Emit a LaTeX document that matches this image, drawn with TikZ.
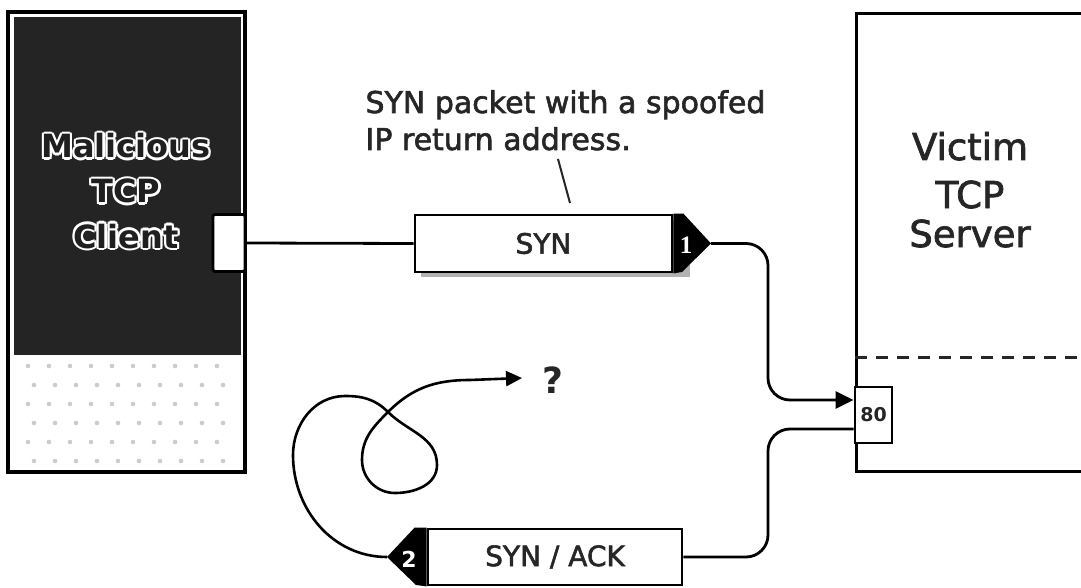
\documentclass[tikz,border=0pt]{standalone}
\usepackage{fontspec}
\setmainfont{DejaVu Sans}
\newfontfamily\heavy[FakeBold=2]{DejaVu Sans}
\newfontfamily\numfont{Liberation Serif}
\usetikzlibrary{arrows.meta,calc}
\begin{document}
\begin{tikzpicture}[x=1pt,y=-1pt,
  boxline/.style={draw=black,line width=2.8pt},
  packet/.style={boxline,fill=white,inner sep=0pt,minimum height=57pt},
  conn/.style={draw=black,line width=2.8pt,rounded corners=22pt},
  bigtip/.style={-{Triangle[length=18pt,width=17pt]}},
  pkttext/.style={font=\heavy\fontsize{28}{32}\selectfont,text=black!85},
  srvtext/.style={font=\heavy\fontsize{37}{40}\selectfont,text=black!85,anchor=base},
  clitext/.style={font=\fontsize{32}{36}\selectfont\bfseries,anchor=base},
  notetext/.style={font=\heavy\fontsize{30}{36}\selectfont,text=black!85,anchor=base west},
]
\clip (0,0) rectangle (1081,588);
\fill[white] (0,0) rectangle (1081,588);

% ---------- client ----------
\fill[black!86] (14,17) rectangle (241,355);
\foreach \r in {0,...,5}{
  \foreach \c in {0,...,9}{
    \fill[gray!40] ({28+\c*21+mod(\r,2)*6},{366+\r*19}) circle (2.3pt);
  }
}
\node[boxline,line width=3.2pt,minimum width=237pt,minimum height=460pt,inner sep=0pt] (client) at (126.5,242) {};
\foreach \a in {0,30,...,330}{
  \node[clitext,white] at ($(126,158)+(\a:2.2)$) {Malicious};
  \node[clitext,white] at ($(126,203)+(\a:2.2)$) {TCP};
  \node[clitext,white] at ($(126,248)+(\a:2.2)$) {Client};
}
\node[clitext,black!88] (cl1) at (126,158) {Malicious};
\node[clitext,black!88] (cl2) at (126,203) {TCP};
\node[clitext,black!88] (cl3) at (126,248) {Client};
\node[boxline,fill=white,rounded corners=2pt,minimum width=32pt,minimum height=57pt,inner sep=0pt] (cport) at (229,243) {};

% ---------- server ----------
\node[boxline,minimum width=260pt,minimum height=458pt,inner sep=0pt,anchor=north west] (server) at (855,12) {};
\draw[black!85,line width=3pt,dash pattern=on 12pt off 9pt] (server.west |- 0,357) -- (1081,357);
\node[srvtext] (sv1) at (970,160) {Victim};
\node[srvtext] (sv2) at (970,208) {TCP};
\node[srvtext] (sv3) at (970,247) {Server};
\node[boxline,fill=white,minimum width=37pt,minimum height=56pt,inner sep=0pt,font=\fontsize{19}{20}\selectfont\bfseries,text=black!85] (p80) at (873.5,415) {80};

% ---------- SYN packet ----------
\fill[gray!60] (421,221) rectangle (690,277);
\node[packet,minimum width=257pt,pkttext] (syn) at (543.5,243.5) {SYN};
\fill[black] (syn.north east) -- ++(10,0) -- (711,243.5) coordinate (syntip) -- (682,272) -- (syn.south east) -- cycle;
\node[text=white,font=\numfont\fontsize{25}{26}\selectfont\bfseries] (n1) at (686,245) {1};

% ---------- SYN/ACK packet ----------
\node[packet,minimum width=254pt,minimum height=56pt,pkttext] (synack) at (555,557) {SYN / ACK};
\fill[black] (synack.north west) -- ++(-12,0) -- (387,557) coordinate (acktip) -- (416,585) -- (synack.south west) -- cycle;
\node[text=white,font=\fontsize{22}{24}\selectfont\bfseries] (n2) at (409,559) {2};

% ---------- annotation ----------
\node[notetext] (note1) at (362,113) {SYN packet with a spoofed};
\node[notetext] (note2) at (362,150) {IP return address.};
\coordinate (ptrA) at (558,159);
\coordinate (ptrB) at (570,203);
\draw[black!85,line width=2pt] (ptrA) -- (ptrB);

% ---------- connectors ----------
\draw[conn] (cport.east) -- (syn.west);
\draw[conn,bigtip] (syntip) -- (768,243.5) -- (768,400) -- ([yshift=15pt]p80.west);
\draw[conn] ([yshift=-14pt]p80.west) -- (768,429) -- (768,557) -- (synack.east);

% ---------- lost reply loop ----------
\coordinate (qtip) at (522,378);
\draw[black,line width=2.6pt,-{Triangle[length=16pt,width=15pt]}]
  (acktip) to[out=180,in=270] (293,455) to[out=90,in=180] (345,396)
  to[out=0,in=135] (388,412) to[out=-45,in=90] (437,465)
  to[out=270,in=0] (395,493) to[out=180,in=270] (362,460)
  to[out=90,in=225] (388,412) to[out=45,in=180] (470,380) -- (qtip);
\node[font=\fontsize{36}{38}\selectfont\bfseries,text=black!85] (q) at (553,380) {?};
\end{tikzpicture}
\end{document}
